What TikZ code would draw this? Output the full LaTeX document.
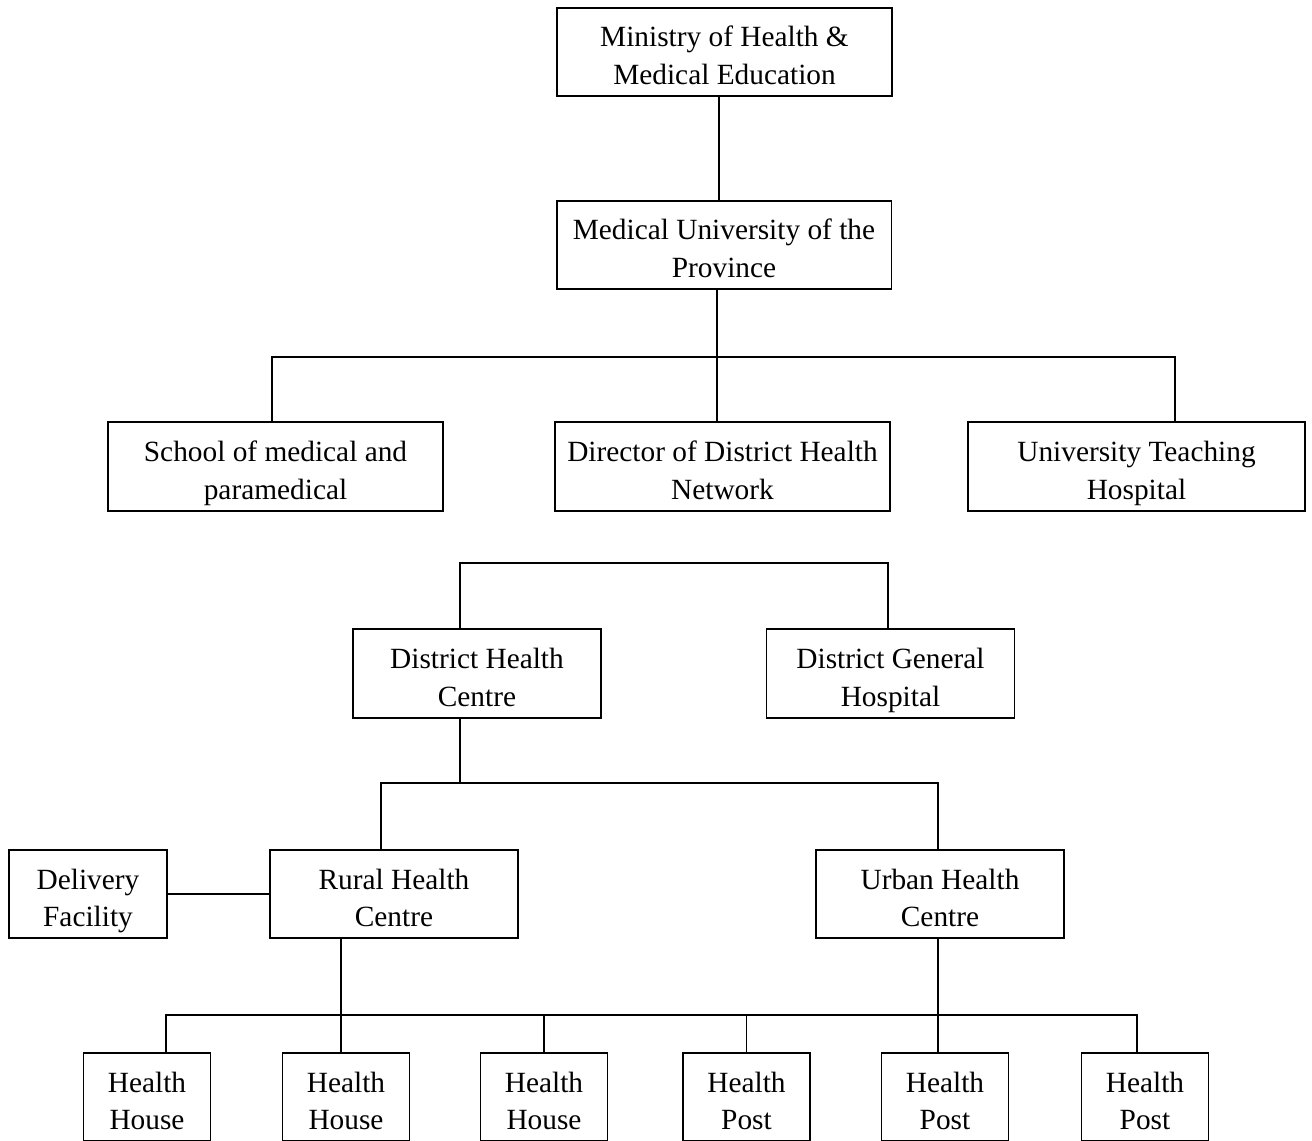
\documentclass[tikz,border=0pt]{standalone}
\usepackage{fontspec}
\setmainfont{Liberation Serif}
\tikzset{
  box/.style={draw, line width=1.1pt, align=center, inner sep=0pt,
    minimum height=1.77cm, font=\fontsize{16.7}{21.6}\selectfont,
    text height=37.5pt, text depth=0pt},
  widebox/.style={box, minimum width=6.7cm},
  midbox/.style={box, minimum width=4.96cm},
  smallbox/.style={box, minimum width=2.54cm},
  link/.style={line width=1.1pt}
}
\begin{document}
\begin{tikzpicture}[x=0.02cm, y=-0.02cm]

  % --- page ---
  \clip (0,0) rectangle (1312,1140);
  \fill[white] (0,0) rectangle (1312,1140);

  % --- top levels ---
  \node[widebox] (min) at (724.5,52) {Ministry of Health \&\\Medical Education};
  \node[widebox] (uni) at (724,245) {Medical University of the\\Province};

  % --- university branches ---
  \node[widebox] (school) at (275.5,466.5) {School of medical and\\paramedical};
  \node[widebox] (dir) at (722.5,466.5) {Director of District Health\\Network};
  \node[widebox, minimum width=6.74cm] (teach) at (1136.5,466.5) {University Teaching\\Hospital};

  % --- district level ---
  \node[midbox] (dhc) at (477,673.5) {District Health\\Centre};
  \node[midbox] (dgh) at (890.5,673.5) {District General\\Hospital};

  % --- centres ---
  \node[box, minimum width=3.16cm] (deliv) at (88,894) {Delivery\\Facility};
  \node[midbox] (rural) at (394,894) {Rural Health\\Centre};
  \node[midbox] (urban) at (940,894) {Urban Health\\Centre};

  % --- houses and posts ---
  \node[smallbox] (hh1) at (147,1097) {Health\\House};
  \node[smallbox] (hh2) at (346,1097) {Health\\House};
  \node[smallbox] (hh3) at (544,1097) {Health\\House};
  \node[smallbox] (hp1) at (746.5,1097) {Health\\Post};
  \node[smallbox] (hp2) at (945,1097) {Health\\Post};
  \node[smallbox] (hp3) at (1145,1097) {Health\\Post};

  % --- bus points ---
  \coordinate (b0) at (719,150);
  \coordinate (b1t) at (717,357);
  \coordinate (b1w) at (272,357);
  \coordinate (b1e) at (1175,357);
  \coordinate (b2w) at (460,563);
  \coordinate (b2e) at (888,563);
  \coordinate (b3t) at (460,783);
  \coordinate (b3w) at (381,783);
  \coordinate (b3e) at (938,783);
  \coordinate (b4w) at (166,1015);
  \coordinate (b4r) at (341,1015);
  \coordinate (b4u) at (938,1015);
  \coordinate (b4e) at (1137,1015);

  % --- connectors ---
  \draw[link] (b0 |- min.south) -- (b0 |- uni.north);
  \draw[link] (b1t |- uni.south) -- (b1t |- dir.north);
  \draw[link] (b1w |- school.north) -- (b1w) -- (b1e) -- (b1e |- teach.north);

  \draw[link] (b2w |- dhc.north) -- (b2w) -- (b2e) -- (b2e |- dgh.north);

  \draw[link] (b3t |- dhc.south) -- (b3t);
  \draw[link] (b3w |- rural.north) -- (b3w) -- (b3e) -- (b3e |- urban.north);
  \draw[link] (deliv.east) -- (rural.west);

  \draw[link] (b4r |- rural.south) -- (b4r |- hh2.north);
  \draw[link] (b4u |- urban.south) -- (b4u |- hp2.north);
  \draw[link] (b4w |- hh1.north) -- (b4w) -- (b4e) -- (b4e |- hp3.north);
  \draw[link] (b4w -| hh3.north) -- (hh3.north);
  \draw[link] (b4w -| hp1.north) -- (hp1.north);

\end{tikzpicture}
\end{document}
